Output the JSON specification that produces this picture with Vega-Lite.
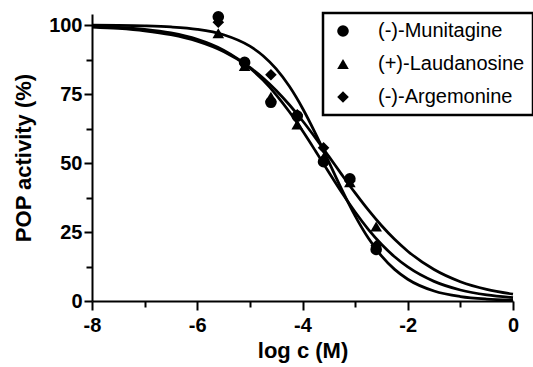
{
  "$schema": "https://vega.github.io/schema/vega-lite/v6.json",
  "width": 421,
  "height": 287,
  "autosize": {"type": "none"},
  "padding": {"left": 92, "top": 14, "right": 20, "bottom": 66},
  "background": "white",
  "datasets": {
    "curves": [
      {"compound": "(-)-Argemonine", "logc": -8, "activity": 99.94},
      {"compound": "(-)-Argemonine", "logc": -7.5, "activity": 99.87},
      {"compound": "(-)-Argemonine", "logc": -7, "activity": 99.69},
      {"compound": "(-)-Argemonine", "logc": -6.5, "activity": 99.3},
      {"compound": "(-)-Argemonine", "logc": -6, "activity": 98.43},
      {"compound": "(-)-Argemonine", "logc": -5.5, "activity": 96.49},
      {"compound": "(-)-Argemonine", "logc": -5, "activity": 92.34},
      {"compound": "(-)-Argemonine", "logc": -4.75, "activity": 88.86},
      {"compound": "(-)-Argemonine", "logc": -4.5, "activity": 84.09},
      {"compound": "(-)-Argemonine", "logc": -4.25, "activity": 77.78},
      {"compound": "(-)-Argemonine", "logc": -4, "activity": 69.86},
      {"compound": "(-)-Argemonine", "logc": -3.75, "activity": 60.55},
      {"compound": "(-)-Argemonine", "logc": -3.5, "activity": 50.41},
      {"compound": "(-)-Argemonine", "logc": -3.25, "activity": 40.24},
      {"compound": "(-)-Argemonine", "logc": -3, "activity": 30.83},
      {"compound": "(-)-Argemonine", "logc": -2.75, "activity": 22.79},
      {"compound": "(-)-Argemonine", "logc": -2.5, "activity": 16.35},
      {"compound": "(-)-Argemonine", "logc": -2.25, "activity": 11.46},
      {"compound": "(-)-Argemonine", "logc": -2, "activity": 7.89},
      {"compound": "(-)-Argemonine", "logc": -1.5, "activity": 3.62},
      {"compound": "(-)-Argemonine", "logc": -1, "activity": 1.62},
      {"compound": "(-)-Argemonine", "logc": -0.5, "activity": 0.72},
      {"compound": "(-)-Argemonine", "logc": 0, "activity": 0.32},
      {"compound": "(-)-Munitagine", "logc": -8, "activity": 99.53},
      {"compound": "(-)-Munitagine", "logc": -7.5, "activity": 99.13},
      {"compound": "(-)-Munitagine", "logc": -7, "activity": 98.42},
      {"compound": "(-)-Munitagine", "logc": -6.5, "activity": 97.13},
      {"compound": "(-)-Munitagine", "logc": -6, "activity": 94.84},
      {"compound": "(-)-Munitagine", "logc": -5.5, "activity": 90.91},
      {"compound": "(-)-Munitagine", "logc": -5, "activity": 84.45},
      {"compound": "(-)-Munitagine", "logc": -4.75, "activity": 80.03},
      {"compound": "(-)-Munitagine", "logc": -4.5, "activity": 74.73},
      {"compound": "(-)-Munitagine", "logc": -4.25, "activity": 68.56},
      {"compound": "(-)-Munitagine", "logc": -4, "activity": 61.66},
      {"compound": "(-)-Munitagine", "logc": -3.75, "activity": 54.26},
      {"compound": "(-)-Munitagine", "logc": -3.5, "activity": 46.65},
      {"compound": "(-)-Munitagine", "logc": -3.25, "activity": 39.21},
      {"compound": "(-)-Munitagine", "logc": -3, "activity": 32.24},
      {"compound": "(-)-Munitagine", "logc": -2.75, "activity": 25.97},
      {"compound": "(-)-Munitagine", "logc": -2.5, "activity": 20.55},
      {"compound": "(-)-Munitagine", "logc": -2.25, "activity": 16.02},
      {"compound": "(-)-Munitagine", "logc": -2, "activity": 12.33},
      {"compound": "(-)-Munitagine", "logc": -1.5, "activity": 7.11},
      {"compound": "(-)-Munitagine", "logc": -1, "activity": 4.0},
      {"compound": "(-)-Munitagine", "logc": -0.5, "activity": 2.21},
      {"compound": "(-)-Munitagine", "logc": 0, "activity": 1.22},
      {"compound": "(+)-Laudanosine", "logc": -8, "activity": 99.28},
      {"compound": "(+)-Laudanosine", "logc": -7.5, "activity": 98.77},
      {"compound": "(+)-Laudanosine", "logc": -7, "activity": 97.92},
      {"compound": "(+)-Laudanosine", "logc": -6.5, "activity": 96.5},
      {"compound": "(+)-Laudanosine", "logc": -6, "activity": 94.15},
      {"compound": "(+)-Laudanosine", "logc": -5.5, "activity": 90.4},
      {"compound": "(+)-Laudanosine", "logc": -5, "activity": 84.63},
      {"compound": "(+)-Laudanosine", "logc": -4.75, "activity": 80.81},
      {"compound": "(+)-Laudanosine", "logc": -4.5, "activity": 76.31},
      {"compound": "(+)-Laudanosine", "logc": -4.25, "activity": 71.12},
      {"compound": "(+)-Laudanosine", "logc": -4, "activity": 65.32},
      {"compound": "(+)-Laudanosine", "logc": -3.75, "activity": 59.02},
      {"compound": "(+)-Laudanosine", "logc": -3.5, "activity": 52.41},
      {"compound": "(+)-Laudanosine", "logc": -3.25, "activity": 45.71},
      {"compound": "(+)-Laudanosine", "logc": -3, "activity": 39.17},
      {"compound": "(+)-Laudanosine", "logc": -2.75, "activity": 33.0},
      {"compound": "(+)-Laudanosine", "logc": -2.5, "activity": 27.35},
      {"compound": "(+)-Laudanosine", "logc": -2.25, "activity": 22.36},
      {"compound": "(+)-Laudanosine", "logc": -2, "activity": 18.05},
      {"compound": "(+)-Laudanosine", "logc": -1.5, "activity": 11.41},
      {"compound": "(+)-Laudanosine", "logc": -1, "activity": 7.0},
      {"compound": "(+)-Laudanosine", "logc": -0.5, "activity": 4.22},
      {"compound": "(+)-Laudanosine", "logc": 0, "activity": 2.51}
    ],
    "points": [
      {"compound": "(-)-Munitagine", "logc": -5.6, "activity": 103},
      {"compound": "(-)-Munitagine", "logc": -5.1, "activity": 86.5},
      {"compound": "(-)-Munitagine", "logc": -4.6, "activity": 72},
      {"compound": "(-)-Munitagine", "logc": -4.1, "activity": 67},
      {"compound": "(-)-Munitagine", "logc": -3.6, "activity": 50.5},
      {"compound": "(-)-Munitagine", "logc": -3.1, "activity": 44.3},
      {"compound": "(-)-Munitagine", "logc": -2.6, "activity": 18.7},
      {"compound": "(+)-Laudanosine", "logc": -5.6, "activity": 97},
      {"compound": "(+)-Laudanosine", "logc": -5.1, "activity": 85.2},
      {"compound": "(+)-Laudanosine", "logc": -4.6, "activity": 74},
      {"compound": "(+)-Laudanosine", "logc": -4.1, "activity": 64},
      {"compound": "(+)-Laudanosine", "logc": -3.6, "activity": 52},
      {"compound": "(+)-Laudanosine", "logc": -3.1, "activity": 43},
      {"compound": "(+)-Laudanosine", "logc": -2.6, "activity": 27},
      {"compound": "(-)-Argemonine", "logc": -5.6, "activity": 101},
      {"compound": "(-)-Argemonine", "logc": -5.1, "activity": 86},
      {"compound": "(-)-Argemonine", "logc": -4.6, "activity": 82},
      {"compound": "(-)-Argemonine", "logc": -4.1, "activity": 67.5},
      {"compound": "(-)-Argemonine", "logc": -3.6, "activity": 55.5},
      {"compound": "(-)-Argemonine", "logc": -3.1, "activity": 43.5},
      {"compound": "(-)-Argemonine", "logc": -2.6, "activity": 20}
    ]
  },
  "encoding": {
    "x": {
      "field": "logc",
      "type": "quantitative",
      "scale": {"domain": [-8, 0], "nice": false, "zero": false},
      "axis": {
        "title": "log c (M)",
        "values": [-8, -7, -6, -5, -4, -3, -2, -1, 0],
        "labelExpr": "datum.value % 2 == 0 ? toString(datum.value) : ''",
        "labelFlush": false,
        "tickSize": {"condition": {"test": "datum.value % 2 == 0", "value": 9}, "value": 6},
        "labelPadding": 5,
        "titlePadding": 5
      }
    },
    "y": {
      "field": "activity",
      "type": "quantitative",
      "scale": {"domain": [0, 104], "nice": false},
      "axis": {
        "title": "POP activity (%)",
        "values": [0, 12.5, 25, 37.5, 50, 62.5, 75, 87.5, 100],
        "labelExpr": "datum.value % 25 == 0 ? datum.label : ''",
        "tickSize": {"condition": {"test": "datum.value % 25 == 0", "value": 8}, "value": 6},
        "labelPadding": 2,
        "titlePadding": 13
      }
    }
  },
  "layer": [
    {
      "data": {"name": "curves"},
      "mark": {"type": "line", "color": "black", "strokeWidth": 2.75, "interpolate": "monotone"},
      "encoding": {"detail": {"field": "compound"}}
    },
    {
      "data": {"name": "points"},
      "mark": {"type": "point", "filled": true, "color": "black", "opacity": 1, "size": 135},
      "encoding": {
        "shape": {
          "field": "compound",
          "type": "nominal",
          "sort": null,
          "scale": {
            "domain": ["(-)-Munitagine", "(+)-Laudanosine", "(-)-Argemonine"],
            "range": ["circle", "triangle-up", "diamond"]
          },
          "legend": {
            "title": null,
            "orient": "none",
            "legendX": 231,
            "legendY": -1,
            "padding": 8,
            "symbolOffset": 2,
            "rowPadding": 13,
            "labelOffset": 25,
            "symbolSize": 135,
            "symbolFillColor": "black",
            "symbolStrokeColor": "black",
            "symbolType": "circle",
            "labelFontSize": 20,
            "labelFont": "Liberation Sans",
            "labelColor": "black",
            "strokeColor": "black",
            "fillColor": "white"
          }
        }
      }
    }
  ],
  "config": {
    "view": {"stroke": null},
    "axis": {
      "grid": false,
      "domainColor": "black",
      "domainWidth": 2,
      "tickColor": "black",
      "tickWidth": 2,
      "labelFont": "Liberation Sans",
      "labelFontSize": 20,
      "labelFontWeight": "bold",
      "labelColor": "black",
      "titleFont": "Liberation Sans",
      "titleFontSize": 22,
      "titleFontWeight": "bold",
      "titleColor": "black"
    },
    "legend": {"strokeWidth": 2.5}
  }
}
